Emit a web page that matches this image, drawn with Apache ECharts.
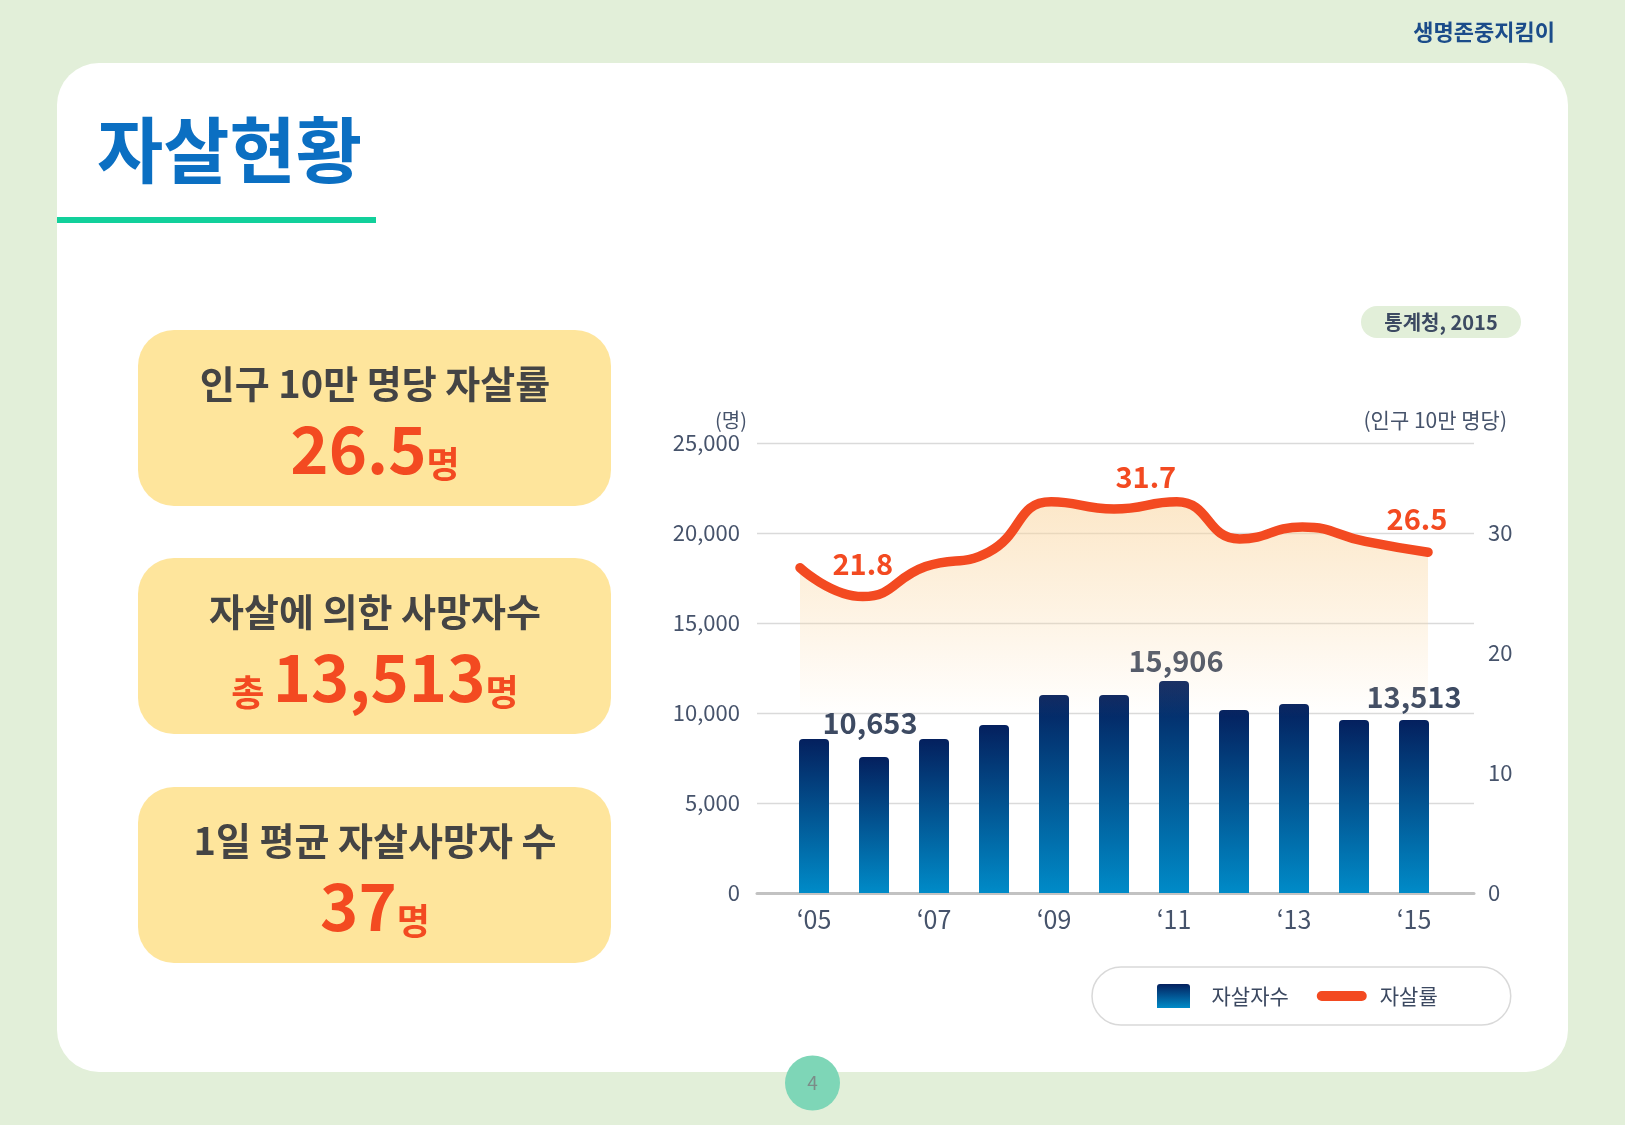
<!DOCTYPE html>
<html>
<head>
<meta charset="utf-8">
<script src="https://cdn.jsdelivr.net/npm/echarts@6/dist/echarts.min.js"></script>
<style>
  html, body { margin: 0; padding: 0; background: #e2efd9; }
  #chart { width: 1625px; height: 1125px; }
</style>
</head>
<body>
<div id="chart"></div>
<script>
// 데이터
const years = ['2005', '2006', '2007', '2008', '2009', '2010', '2011', '2012', '2013', '2014', '2015'];
const deaths = [8550, 7550, 8550, 9330, 11000, 11000, 11780, 10170, 10500, 9610, 9610];
const deathLabels = ['', '10,653', '', '', '', '', '15,906', '', '', '', '13,513'];
const rates = [27.1, 24.7, 27.2, 28.4, 32.6, 32.0, 32.6, 29.5, 30.5, 29.3, 28.4];
const rateLabels = ['', '21.8', '', '', '', '', '31.7', '', '', '', '26.5'];
const countTicks = [0, 5000, 10000, 15000, 20000, 25000];
const rateTicks = [0, 10, 20, 30];
const rateMax = 37.5;
const seriesNames = ['자살자수', '자살률'];
const cardTitles = ['인구 10만 명당 자살률', '자살에 의한 사망자수', '1일 평균 자살사망자 수'];
const cardPrefix = ['', '총 ', ''];
const cardValues = ['26.5', '13,513', '37'];
const cardUnit = '명';

const FONT = '"Noto Sans CJK KR", "Noto Sans", sans-serif';
const AXIS_COLOR = '#46536b';
const RED = '#f34a21';

// 라벨 위치 보정 (px)
const deathLabelOffset = { 1: [-4, -14], 6: [2, 0], 10: [0, -3] };
const rateLabelOffset = { 1: [0, -12], 6: [-31, -4], 10: [-11, -12] };

const barGrad = {
  type: 'linear', x: 0, y: 0, x2: 0, y2: 1,
  colorStops: [{ offset: 0, color: '#04205e' }, { offset: 1, color: '#008bc8' }]
};
const areaGrad = {
  type: 'linear', x: 0, y: 0, x2: 0, y2: 1,
  colorStops: [
    { offset: 0, color: 'rgba(250,213,158,0.8)' },
    { offset: 0.3, color: 'rgba(250,213,158,0.38)' },
    { offset: 0.55, color: 'rgba(250,213,158,0)' }
  ]
};

function text(x, y, str, size, color, weight, align) {
  return {
    type: 'text', x: x, y: y, silent: true,
    style: {
      text: str, fill: color, fontSize: size, fontWeight: weight || 'normal', fontFamily: FONT,
      align: align || 'center', textAlign: align || 'center',
      verticalAlign: 'middle', textVerticalAlign: 'middle'
    }
  };
}

// 왼쪽 요약 카드
const cardTops = [330, 558, 787];
const cardGraphics = [];
cardTops.forEach((top, i) => {
  cardGraphics.push({
    type: 'rect', silent: true,
    shape: { x: 138, y: top, width: 473, height: 176, r: 36 },
    style: { fill: '#fee59c' }
  });
  cardGraphics.push(text(375, top + 54, cardTitles[i], 38, '#444444', 'bold'));
  cardGraphics.push({
    type: 'text', x: 375, y: top + 120, silent: true,
    style: {
      text: (cardPrefix[i] ? '{p|' + cardPrefix[i] + '}' : '') + '{n|' + cardValues[i] + '}{u|' + cardUnit + '}',
      align: 'center', textAlign: 'center', verticalAlign: 'middle', textVerticalAlign: 'middle',
      rich: {
        p: { fontSize: 36, fontWeight: 'bold', fill: RED, color: RED, fontFamily: FONT, lineHeight: 40, verticalAlign: 'bottom' },
        n: { fontSize: 65, fontWeight: 'bold', fill: RED, color: RED, fontFamily: FONT, lineHeight: 64, verticalAlign: 'bottom' },
        u: { fontSize: 36, fontWeight: 'bold', fill: RED, color: RED, fontFamily: FONT, lineHeight: 40, verticalAlign: 'bottom' }
      }
    }
  });
});

const chart = echarts.init(document.getElementById('chart'));

const option = {
  backgroundColor: '#e2efd9',
  animation: false,
  textStyle: { fontFamily: FONT },
  graphic: [
    { type: 'rect', silent: true, shape: { x: 57, y: 63, width: 1511, height: 1009, r: 42 }, style: { fill: '#ffffff' } },
    text(1555, 32, '생명존중지킴이', 22, '#1b4c8a', 'bold', 'right'),
    text(97, 150, '자살현황', 72, '#0b6fc2', 'bold', 'left'),
    { type: 'rect', silent: true, shape: { x: 57, y: 217, width: 319, height: 6 }, style: { fill: '#12d09b' } },
    { type: 'rect', silent: true, shape: { x: 1361, y: 306, width: 160, height: 32, r: 16 }, style: { fill: '#e2efd9' } },
    text(1441, 322, '통계청, 2015', 20, '#3c4a62', 'bold'),
    ...cardGraphics,
    { type: 'circle', silent: true, shape: { cx: 812.5, cy: 1083, r: 27.5 }, style: { fill: '#7ed6b7' } },
    text(812.5, 1083, '4', 19, '#7b8c88', 'normal')
  ],
  legend: {
    left: 1092, top: 967,
    padding: [17, 73, 17, 65],
    itemWidth: 50, itemHeight: 24, itemGap: 28,
    symbolKeepAspect: true,
    borderColor: '#d9d9d9', borderWidth: 1.5, borderRadius: 29,
    textStyle: { color: '#3b4860', fontSize: 21, fontFamily: FONT, padding: [0, 0, 0, 8] },
    data: [
      { name: seriesNames[0], icon: 'path://M3,0 H30 Q33,0 33,3 V24 H0 V3 Q0,0 3,0 Z' },
      { name: seriesNames[1], icon: 'path://M5,0 H45 A5,5 0 0 1 45,10 H5 A5,5 0 0 1 5,0 Z' }
    ]
  },
  grid: [
    { left: 757, right: 151, top: 443, bottom: 232, outerBoundsMode: 'none' },
    { left: 784, right: 181, top: 443, bottom: 232, outerBoundsMode: 'none' },
    { left: 800, right: 197, top: 443, bottom: 232, outerBoundsMode: 'none' }
  ],
  xAxis: [
    {
      gridIndex: 0, type: 'value', min: 0, max: 1,
      axisLine: { show: true, onZero: false, lineStyle: { color: '#c2c2c2', width: 3 } },
      axisTick: { show: false }, axisLabel: { show: false }, splitLine: { show: false }
    },
    {
      gridIndex: 1, type: 'category', data: years, boundaryGap: true,
      axisLine: { show: false }, axisTick: { show: false },
      axisLabel: {
        interval: 1, margin: 14, color: AXIS_COLOR, fontSize: 25, fontFamily: FONT,
        formatter: v => '\u2018' + v.slice(2)
      }
    },
    { gridIndex: 2, type: 'category', data: years, boundaryGap: false, show: false }
  ],
  yAxis: [
    {
      gridIndex: 0, type: 'value', position: 'left',
      min: countTicks[0], max: countTicks[countTicks.length - 1], interval: countTicks[1] - countTicks[0],
      axisLine: { show: false }, axisTick: { show: false },
      splitLine: { lineStyle: { color: '#dadada', width: 1.3 } },
      axisLabel: { margin: 17, color: AXIS_COLOR, fontSize: 22, fontFamily: FONT, formatter: v => v.toLocaleString('en-US') },
      name: '(명)', nameLocation: 'end', nameGap: 23,
      nameTextStyle: { align: 'right', verticalAlign: 'middle', padding: [0, 10, 0, 0], color: AXIS_COLOR, fontSize: 20, fontFamily: FONT }
    },
    {
      gridIndex: 0, type: 'value', position: 'right',
      min: rateTicks[0], max: rateMax, interval: rateTicks[1] - rateTicks[0],
      axisLine: { show: false }, axisTick: { show: false }, splitLine: { show: false },
      axisLabel: { margin: 14, color: AXIS_COLOR, fontSize: 22, fontFamily: FONT, showMaxLabel: false },
      name: '(인구 10만 명당)', nameLocation: 'end', nameGap: 23,
      nameTextStyle: { align: 'right', verticalAlign: 'middle', padding: [0, -33, 0, 0], color: AXIS_COLOR, fontSize: 21, fontFamily: FONT }
    },
    { gridIndex: 1, type: 'value', min: countTicks[0], max: countTicks[countTicks.length - 1], show: false },
    { gridIndex: 2, type: 'value', min: rateTicks[0], max: rateMax, show: false }
  ],
  series: [
    {
      name: seriesNames[1], type: 'line', xAxisIndex: 2, yAxisIndex: 3,
      smooth: 0.5, symbol: 'circle', symbolSize: 2, showSymbol: true,
      lineStyle: { color: RED, width: 9.5, cap: 'round', join: 'round' },
      itemStyle: { color: RED },
      areaStyle: { color: areaGrad },
      label: { show: false, position: 'top', distance: 5, color: RED, fontSize: 29, fontWeight: 'bold', fontFamily: FONT, lineHeight: 30 },
      emphasis: { disabled: true },
      data: rates.map((v, i) => rateLabels[i]
        ? { value: v, label: { show: true, formatter: rateLabels[i], offset: rateLabelOffset[i] || [0, 0] } }
        : v)
    },
    {
      name: seriesNames[0], type: 'bar', xAxisIndex: 1, yAxisIndex: 2,
      barWidth: 30,
      itemStyle: { color: barGrad, borderRadius: [4, 4, 0, 0] },
      label: { show: false, position: 'top', distance: 5, color: '#3d4a62', fontSize: 29, fontWeight: 'bold', fontFamily: FONT, lineHeight: 30 },
      emphasis: { disabled: true },
      data: deaths.map((v, i) => deathLabels[i]
        ? { value: v, label: { show: true, formatter: deathLabels[i], offset: deathLabelOffset[i] || [0, 0] } }
        : v)
    }
  ]
};

chart.setOption(option);
</script>
</body>
</html>
